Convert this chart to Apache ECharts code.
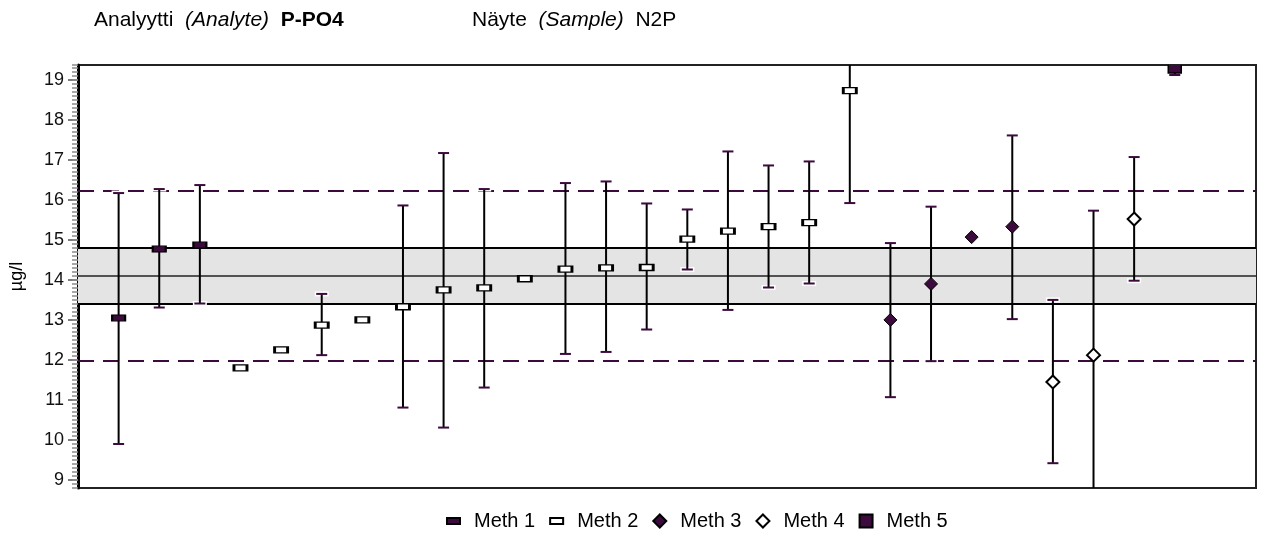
<!DOCTYPE html>
<html>
<head>
<meta charset="utf-8">
<script src="https://cdn.jsdelivr.net/npm/echarts@6/dist/echarts.min.js"></script>
<style>
  html, body { margin: 0; padding: 0; background: #fff; }
  #chart { width: 1268px; height: 536px; }
</style>
</head>
<body>
<div id="chart"></div>
<script>
// Laboratory results per method: position on the x scale, reported value,
// and the lower / upper end of the reported uncertainty (null = none given).
const meth1Pos = [0, 1, 2];
const meth1Val = [13.05, 14.77, 14.87];
const meth1Lo  = [9.9, 13.31, 13.41];
const meth1Hi  = [16.17, 16.27, 16.37];

const meth2Pos = [3, 4, 5, 6, 7, 8, 9, 10, 11, 12, 13, 14, 15, 16, 17, 18];
const meth2Val = [11.8, 12.25, 12.87, 13.0, 13.33, 13.75, 13.8, 14.03, 14.27, 14.3, 14.31, 15.02, 15.22, 15.33, 15.43, 18.73];
const meth2Lo  = [null, null, 12.12, null, 10.81, 10.31, 11.31, null, 12.15, 12.2, 12.76, 14.26, 13.25, 13.81, 13.91, 15.92];
const meth2Hi  = [null, null, 13.65, null, 15.86, 17.17, 16.27, null, 16.42, 16.46, 15.91, 15.76, 17.21, 16.86, 16.96, 21.54];

const meth3Pos = [19, 20, 21, 22];
const meth3Val = [13.0, 13.9, 15.07, 15.33];
const meth3Lo  = [11.07, 11.97, null, 13.02];
const meth3Hi  = [14.92, 15.83, null, 17.61];

const meth4Pos = [23, 24, 25];
const meth4Val = [11.45, 12.12, 15.52];
const meth4Lo  = [9.42, 8.52, 13.98];
const meth4Hi  = [13.5, 15.73, 17.07];

const meth5Pos = [26];
const meth5Val = [19.33];
const meth5Lo  = [19.12];
const meth5Hi  = [19.54];

// Assigned value, its tolerance band and the outer limits
const assignedValue = 14.1;
const bandLow = 13.4;
const bandHigh = 14.8;
const limitLow = 11.98;
const limitHigh = 16.22;

const methodNames = ['Meth 1', 'Meth 2', 'Meth 3', 'Meth 4', 'Meth 5'];
const unitLabel = 'µg/l';
const analyteText = ['Analyytti', '(Analyte)', 'P-PO4'];
const sampleText = ['Näyte', '(Sample)', 'N2P'];

const PURPLE = '#3c0a3c';
const FONT = '"Liberation Sans", Arial, Helvetica, sans-serif';

function points(pos, val) {
  return pos.map((x, i) => [x, val[i]]);
}
function errors(pos, lo, hi) {
  const out = [];
  pos.forEach((x, i) => { if (lo[i] != null) out.push([x, lo[i], hi[i]]); });
  return out;
}
const errorData = [].concat(
  errors(meth1Pos, meth1Lo, meth1Hi),
  errors(meth2Pos, meth2Lo, meth2Hi),
  errors(meth3Pos, meth3Lo, meth3Hi),
  errors(meth4Pos, meth4Lo, meth4Hi),
  errors(meth5Pos, meth5Lo, meth5Hi)
);

const chart = echarts.init(document.getElementById('chart'), null, { renderer: 'canvas' });

const barIcon = 'path://M0,0H13V6H0Z';
const diamondIcon = 'path://M6.5,0L13,6.5L6.5,13L0,6.5Z';
const squareIcon = 'path://M0,0H12V12H0Z';

chart.setOption({
  animation: false,
  backgroundColor: '#fff',
  textStyle: { fontFamily: FONT },
  graphic: [
    {
      type: 'text', left: 94, top: 10, silent: true,
      style: {
        text: '{n|' + analyteText[0] + '}  {i|' + analyteText[1] + '}  {b|' + analyteText[2] + '}',
        fontFamily: FONT, fontSize: 21, fill: '#000',
        rich: {
          n: { fontFamily: FONT, fontSize: 21, fill: '#000' },
          i: { fontFamily: FONT, fontSize: 21, fontStyle: 'italic', fill: '#000' },
          b: { fontFamily: FONT, fontSize: 21, fontWeight: 'bold', fill: '#000' }
        }
      }
    },
    {
      type: 'text', left: 472, top: 10, silent: true,
      style: {
        text: '{n|' + sampleText[0] + '}  {i|' + sampleText[1] + '}  {n|' + sampleText[2] + '}',
        fontFamily: FONT, fontSize: 21, fill: '#000',
        rich: {
          n: { fontFamily: FONT, fontSize: 21, fill: '#000' },
          i: { fontFamily: FONT, fontSize: 21, fontStyle: 'italic', fill: '#000' }
        }
      }
    }
  ],
  legend: {
    left: 446, top: 511, padding: 0,
    itemWidth: 13, itemHeight: 13, itemGap: 14,
    textStyle: { fontFamily: FONT, fontSize: 20, color: '#000', padding: [0, 0, 0, 9] },
    data: [
      { name: methodNames[0], icon: barIcon },
      { name: methodNames[1], icon: barIcon },
      { name: methodNames[2], icon: diamondIcon },
      { name: methodNames[3], icon: diamondIcon },
      { name: methodNames[4], icon: squareIcon }
    ]
  },
  grid: {
    left: 70, right: 12, top: 65, bottom: 48,
    show: true, borderColor: '#222', borderWidth: 2, backgroundColor: 'transparent'
  },
  xAxis: {
    type: 'value', min: -1, max: 28,
    axisLine: { show: false }, axisTick: { show: false },
    axisLabel: { show: false }, splitLine: { show: false }
  },
  yAxis: [
    {
      type: 'value', min: 8.8, max: 19.37, splitNumber: 10,
      name: unitLabel, nameLocation: 'middle', nameGap: 52,
      nameTextStyle: { fontFamily: FONT, fontSize: 18, color: '#000' },
      axisLine: { show: true, onZero: false, lineStyle: { color: '#000', width: 3 } },
      axisTick: { show: true, length: 10, lineStyle: { color: '#555', width: 1.5 } },
      axisLabel: {
        show: true, margin: 14, fontFamily: FONT, fontSize: 18, color: '#111',
        showMinLabel: false, showMaxLabel: false
      },
      splitLine: { show: false }
    },
    {
      type: 'value', min: 8.8, max: 19.37, interval: 0.1, position: 'left',
      axisLine: { show: false, onZero: false },
      axisTick: { show: true, length: 6, lineStyle: { color: '#8a8a8a', width: 1.5 } },
      axisLabel: { show: false },
      splitLine: { show: false }
    }
  ],
  series: [
    {
      // tolerance band and limit lines
      name: 'reference', type: 'line', data: [], silent: true,
      markArea: {
        silent: true, z: 1,
        itemStyle: { color: '#e4e4e4' },
        data: [[{ yAxis: bandLow }, { yAxis: bandHigh }]]
      },
      markLine: {
        silent: true, z: 1, symbol: 'none', label: { show: false },
        data: [
          { yAxis: bandLow, lineStyle: { color: '#000', width: 2, type: 'solid' } },
          { yAxis: bandHigh, lineStyle: { color: '#000', width: 2, type: 'solid' } },
          { yAxis: assignedValue, lineStyle: { color: '#222', width: 1.5, type: 'solid' } },
          { yAxis: limitLow, lineStyle: { color: PURPLE, width: 2, type: [16, 9] } },
          { yAxis: limitHigh, lineStyle: { color: PURPLE, width: 2, type: [16, 9] } }
        ]
      }
    },
    {
      name: 'uncertainty', type: 'custom', z: 3, clip: true, silent: true,
      data: errorData,
      renderItem: function (params, api) {
        const x = api.value(0);
        const pLo = api.coord([x, api.value(1)]);
        const pHi = api.coord([x, api.value(2)]);
        const half = 5.5;
        return {
          type: 'group',
          children: [
            { type: 'rect', shape: { x: pLo[0] - 7, y: pLo[1] - 2.5, width: 14, height: 5 }, style: { fill: '#fff' } },
            { type: 'rect', shape: { x: pHi[0] - 7, y: pHi[1] - 2.5, width: 14, height: 5 }, style: { fill: '#fff' } },
            { type: 'line', shape: { x1: pLo[0], y1: pLo[1], x2: pHi[0], y2: pHi[1] }, style: { stroke: '#000', lineWidth: 2 } },
            { type: 'line', shape: { x1: pLo[0] - half, y1: pLo[1], x2: pLo[0] + half, y2: pLo[1] }, style: { stroke: PURPLE, lineWidth: 2 } },
            { type: 'line', shape: { x1: pHi[0] - half, y1: pHi[1], x2: pHi[0] + half, y2: pHi[1] }, style: { stroke: PURPLE, lineWidth: 2 } }
          ]
        };
      }
    },
    {
      name: methodNames[0], type: 'scatter', z: 4, clip: true,
      symbol: 'rect', symbolSize: [13, 6],
      itemStyle: { color: PURPLE, borderColor: '#000', borderWidth: 1.5, opacity: 1 },
      data: points(meth1Pos, meth1Val)
    },
    {
      name: methodNames[1], type: 'scatter', z: 4, clip: true,
      symbol: 'rect', symbolSize: [13, 6],
      itemStyle: { color: '#fff', borderColor: '#000', borderWidth: 2, opacity: 1 },
      data: points(meth2Pos, meth2Val)
    },
    {
      name: methodNames[2], type: 'scatter', z: 4, clip: true,
      symbol: 'diamond', symbolSize: [13, 13],
      itemStyle: { color: PURPLE, borderColor: '#000', borderWidth: 1, opacity: 1 },
      data: points(meth3Pos, meth3Val)
    },
    {
      name: methodNames[3], type: 'scatter', z: 4, clip: true,
      symbol: 'diamond', symbolSize: [13, 13],
      itemStyle: { color: '#fff', borderColor: '#000', borderWidth: 2, opacity: 1 },
      data: points(meth4Pos, meth4Val)
    },
    {
      // square marker drawn as a custom shape so it is cut at the plot edge
      name: methodNames[4], type: 'custom', z: 4, clip: true,
      itemStyle: { color: PURPLE, borderColor: '#000', borderWidth: 1.5 },
      data: points(meth5Pos, meth5Val),
      renderItem: function (params, api) {
        const p = api.coord([api.value(0), api.value(1)]);
        return {
          type: 'rect',
          shape: { x: p[0] - 6.5, y: p[1] - 6.5, width: 13, height: 13 },
          style: { fill: PURPLE, stroke: '#000', lineWidth: 1.5 }
        };
      }
    }
  ]
});
</script>
</body>
</html>
